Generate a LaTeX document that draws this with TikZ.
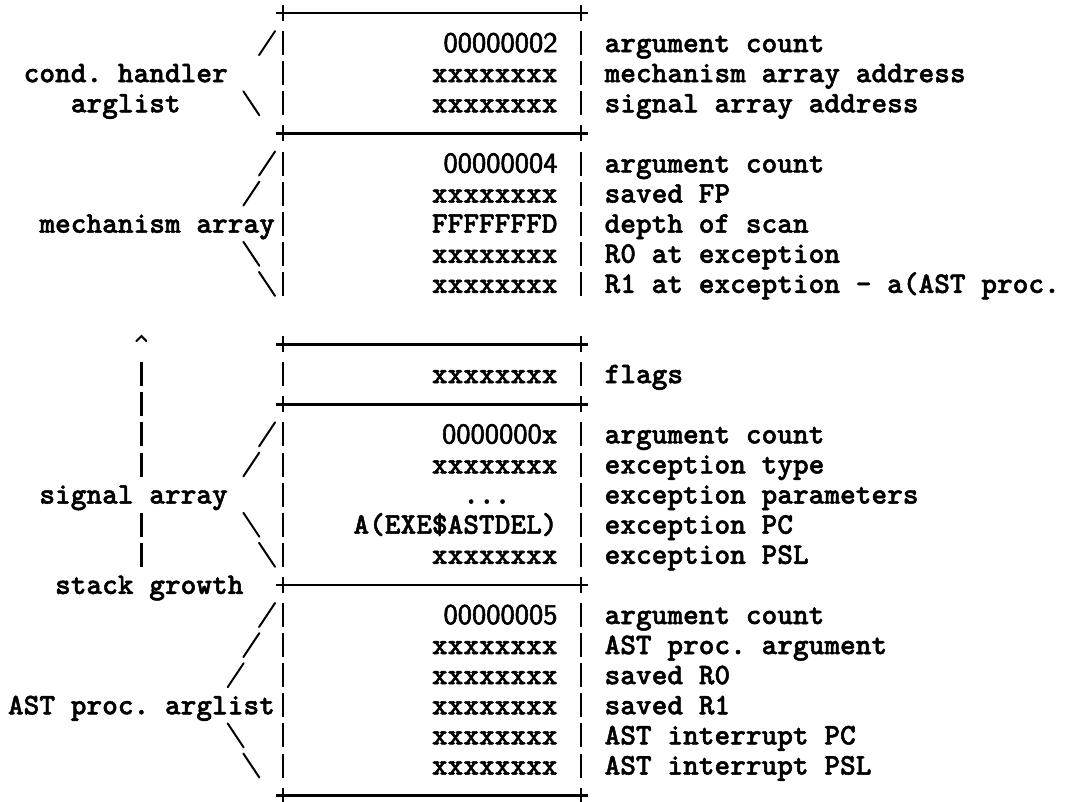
\documentclass[tikz,border=0pt]{standalone}
\usepackage{fontspec}
% heavy typewriter face for all typed text, sans face for the numeric longwords
\newfontfamily\typer{lmmonolt10-bold}[Extension=.otf, FakeBold=1.6]
\newfontfamily\digitface{lmsans10-regular}[Extension=.otf, FakeBold=2]
% character grid of the typed layout: column pitch 15.7pt, line pitch 30.1pt
\newcommand\colx[1]{{8+(#1+0.5)*15.7}}
\newcommand\colleft[1]{{8+(#1)*15.7}}
\newcommand\rowy[1]{{13+(#1)*30.1}}
\newcommand\basey[1]{{13+(#1)*30.1+9}}
\newcommand\dg[1]{{\fontsize{28.5}{30}\selectfont\digitface #1}}
\tikzset{
  tw/.style={font=\fontsize{29.9}{30}\selectfont\typer\frenchspacing,
             inner sep=0pt, outer sep=0pt},
  lbl/.style={tw, anchor=base west},
  val/.style={tw, anchor=base east},
  dsc/.style={tw, anchor=base west},
  rulestroke/.style={line width=2.8pt},
  barstroke/.style={line width=2.2pt},
  slashstroke/.style={line width=2pt, line cap=round},
}
\begin{document}
\begin{tikzpicture}[x=1pt,y=-1pt]
\fill[white] (0,0) rectangle (1076,801);
\useasboundingbox (0,0) rectangle (1076,801);

% horizontal borders with their corner crosses
\foreach \r in {0,4,11,13,19,26}{
  \draw[rulestroke] ({8+17.5*15.7-7},\rowy{\r}) -- ({8+36.5*15.7+7},\rowy{\r});
  \draw[barstroke] (\colx{17},{13+\r*30.1-8}) -- (\colx{17},{13+\r*30.1+8});
  \draw[barstroke] (\colx{36},{13+\r*30.1-8}) -- (\colx{36},{13+\r*30.1+8});
}
% left edge and value/description separator on every text line
\foreach \r in {1,2,3,5,6,7,8,9,12,14,15,16,17,18,20,21,22,23,24,25}{
  \draw[barstroke] (\colx{17},{13+\r*30.1-12}) -- (\colx{17},{13+\r*30.1+12});
  \draw[barstroke] (\colx{36},{13+\r*30.1-12}) -- (\colx{36},{13+\r*30.1+12});
}
% forward slashes (column/row)
\foreach \c/\r in {16/1, 16/5, 15/6, 16/14, 15/15, 16/20, 15/21, 14/22}{
  \draw[slashstroke] ({8+(\c+0.5)*15.7-8},{13+\r*30.1+12}) -- ({8+(\c+0.5)*15.7+8},{13+\r*30.1-12});
}
% backslashes (column/row)
\foreach \c/\r in {15/3, 15/8, 16/9, 15/17, 16/18, 14/24, 15/25}{
  \draw[slashstroke] ({8+(\c+0.5)*15.7-8},{13+\r*30.1-12}) -- ({8+(\c+0.5)*15.7+8},{13+\r*30.1+12});
}
% stack growth arrow
\draw[slashstroke] ({8+8.5*15.7-5},{13+11*30.1-3}) -- ({8+8.5*15.7},{13+11*30.1-8}) -- ({8+8.5*15.7+5},{13+11*30.1-3});
\foreach \r in {12,13,14,15,17,18}{
  \draw[barstroke] (\colx{8},{13+\r*30.1-12}) -- (\colx{8},{13+\r*30.1+12});
}

% labels on the left
\node[lbl] (lcond) at (\colleft{1},\basey{2}) {cond. handler};
\node[lbl] (larg) at (\colleft{4},\basey{3}) {arglist};
\node[lbl] (lmech) at (\colleft{2},\basey{7}) {mechanism array};
\node[lbl] (lsig) at (\colleft{2},\basey{16}) {signal array};
\node[lbl] (lstack) at (\colleft{3},\basey{19}) {stack growth};
\node[lbl] (last) at (\colleft{0},\basey{23}) {AST proc. arglist};

% longword values
\foreach \r/\v in {1/\dg{00000002}, 2/xxxxxxxx, 3/xxxxxxxx,
                   5/\dg{00000004}, 6/xxxxxxxx, 7/FFFFFFFD, 8/xxxxxxxx, 9/xxxxxxxx,
                   12/xxxxxxxx,
                   14/\dg{0000000}x, 15/xxxxxxxx, 17/A(EXE\$ASTDEL), 18/xxxxxxxx,
                   20/\dg{00000005}, 21/xxxxxxxx, 22/xxxxxxxx, 23/xxxxxxxx, 24/xxxxxxxx, 25/xxxxxxxx}{
  \node[val] (v\r) at (\colleft{35},\basey{\r}) {\v};
}
\node[lbl] (v16) at (\colleft{29},\basey{16}) {...};

% descriptions
\foreach \r/\d in {1/argument count, 2/mechanism array address, 3/signal array address,
                   5/argument count, 6/saved FP, 7/depth of scan, 8/R0 at exception,
                   9/R1 at exception - a(AST proc.,
                   12/flags,
                   14/argument count, 15/exception type, 16/exception parameters,
                   17/exception PC, 18/exception PSL,
                   20/argument count, 21/AST proc. argument, 22/saved R0, 23/saved R1,
                   24/AST interrupt PC, 25/AST interrupt PSL}{
  \node[dsc] (d\r) at (\colleft{38},\basey{\r}) {\d};
}
\end{tikzpicture}
\end{document}
